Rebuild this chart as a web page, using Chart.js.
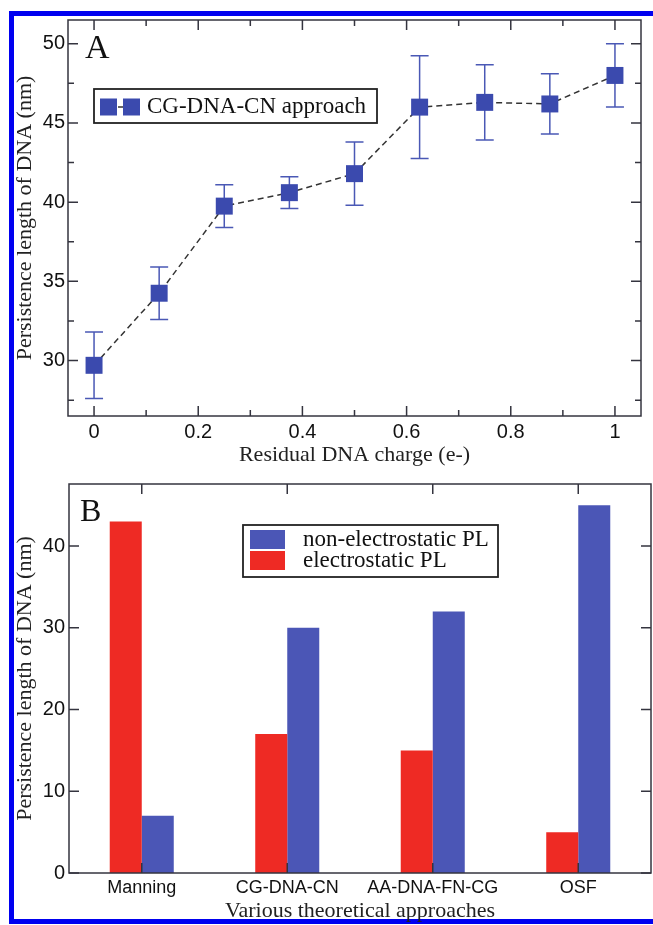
<!DOCTYPE html>
<html>
<head>
<meta charset="utf-8">
<script src="https://cdn.jsdelivr.net/npm/chart.js@4.4.1/dist/chart.umd.min.js"></script>
<style>
body{margin:0;background:#fff;width:653px;height:925px;overflow:hidden;position:relative}
#border{position:absolute;left:9px;top:11px;width:700px;height:913px;border:5px solid #0000f0;border-right:none;box-sizing:border-box}
canvas{position:absolute;left:0}
#chartA{top:0}
#chartB{top:468px}
</style>
</head>
<body>
<div id="border"></div>
<canvas id="chartA" width="653" height="468"></canvas>
<canvas id="chartB" width="653" height="457"></canvas>
<script>
// panel A : persistence length vs residual charge
var charge = [0, 0.125, 0.25, 0.375, 0.5, 0.625, 0.75, 0.875, 1];
var plA = [29.7, 34.25, 39.75, 40.6, 41.8, 46.0, 46.3, 46.2, 48.0];
var errA = [2.1, 1.65, 1.35, 1.0, 2.0, 3.25, 2.37, 1.9, 2.0];
var xTicksA = [0, 0.2, 0.4, 0.6, 0.8, 1];
var xMinorA = [0.1, 0.3, 0.5, 0.7, 0.9];
var yTicksA = [30, 35, 40, 45, 50];
var yMinorA = [27.5, 32.5, 37.5, 42.5, 47.5];

// panel B : theoretical approaches
var approaches = ['Manning', 'CG-DNA-CN', 'AA-DNA-FN-CG', 'OSF'];
var electroPL = [43, 17, 15, 5];
var nonElectroPL = [7, 30, 32, 45];
var yTicksB = [0, 10, 20, 30, 40];

var tickFont = {family: '"Liberation Sans", Arial, sans-serif', size: 20};
var titleFont = {family: '"Liberation Serif", "Times New Roman", serif', size: 22};
var serif = '"Liberation Serif", "Times New Roman", serif';
var frameCol = '#34343f';
var noGrid = {display: false, drawTicks: false};

// frame + inward ticks on the 4 sides (xmgrace look)
var frameTicks = {
	id: 'frameTicks',
	afterDraw: function(chart, args, o){
		var ctx = chart.ctx, a = chart.chartArea;
		var sx = chart.scales.x, sy = chart.scales.y;
		ctx.save();
		ctx.strokeStyle = frameCol;
		ctx.lineWidth = 1.5;
		ctx.beginPath();
		function xt(list, len){
			list.forEach(function(v){
				var p = sx.getPixelForValue(v);
				ctx.moveTo(p, a.bottom); ctx.lineTo(p, a.bottom - len);
				ctx.moveTo(p, a.top); ctx.lineTo(p, a.top + len);
			});
		}
		function yt(list, len){
			list.forEach(function(v){
				var p = sy.getPixelForValue(v);
				ctx.moveTo(a.left, p); ctx.lineTo(a.left + len, p);
				ctx.moveTo(a.right, p); ctx.lineTo(a.right - len, p);
			});
		}
		xt(o.xMajor, 10); xt(o.xMinor || [], 6);
		yt(o.yMajor, 10); yt(o.yMinor || [], 6);
		ctx.stroke();
		ctx.strokeRect(a.left, a.top, a.right - a.left, a.bottom - a.top);
		ctx.restore();
	}
};

// error bars from errA, drawn under the squares
var errorBars = {
	id: 'errorBars',
	beforeDatasetsDraw: function(chart){
		var ctx = chart.ctx, sx = chart.scales.x, sy = chart.scales.y;
		ctx.save();
		ctx.strokeStyle = '#4a58b5';
		ctx.lineWidth = 1.5;
		ctx.beginPath();
		charge.forEach(function(c, i){
			var px = sx.getPixelForValue(c);
			var t = sy.getPixelForValue(plA[i] + errA[i]);
			var b = sy.getPixelForValue(plA[i] - errA[i]);
			ctx.moveTo(px, t); ctx.lineTo(px, b);
			ctx.moveTo(px - 9, t); ctx.lineTo(px + 9, t);
			ctx.moveTo(px - 9, b); ctx.lineTo(px + 9, b);
		});
		ctx.stroke();
		ctx.restore();
	}
};

var legendA = {
	id: 'legendA',
	afterDraw: function(chart){
		var ctx = chart.ctx, a = chart.chartArea, ds = chart.data.datasets[0];
		ctx.save();
		ctx.fillStyle = '#111';
		ctx.font = '34px ' + serif;
		ctx.textBaseline = 'alphabetic';
		ctx.fillText('A', a.left + 17, a.top + 38);
		var bx = a.left + 26, by = a.top + 69;
		ctx.strokeStyle = '#222';
		ctx.lineWidth = 1.8;
		ctx.strokeRect(bx, by, 283, 34);
		var cy = by + 18;
		ctx.strokeStyle = ds.borderColor;
		ctx.lineWidth = 1.5;
		ctx.setLineDash(ds.borderDash);
		ctx.beginPath(); ctx.moveTo(bx + 14, cy); ctx.lineTo(bx + 38, cy); ctx.stroke();
		ctx.setLineDash([]);
		ctx.fillStyle = ds.pointBackgroundColor;
		ctx.fillRect(bx + 6, cy - 8.5, 17, 17);
		ctx.fillRect(bx + 29, cy - 8.5, 17, 17);
		ctx.fillStyle = '#111';
		ctx.font = '23px ' + serif;
		ctx.textBaseline = 'middle';
		ctx.fillText(ds.label, bx + 53, cy);
		ctx.restore();
	}
};

var legendB = {
	id: 'legendB',
	afterDraw: function(chart){
		var ctx = chart.ctx, a = chart.chartArea;
		ctx.save();
		ctx.fillStyle = '#111';
		ctx.font = '32px ' + serif;
		ctx.textBaseline = 'alphabetic';
		ctx.fillText('B', a.left + 11, a.top + 37);
		var bx = a.left + 174, by = a.top + 41;
		ctx.strokeStyle = '#222';
		ctx.lineWidth = 1.8;
		ctx.strokeRect(bx, by, 255, 52);
		ctx.font = '23px ' + serif;
		ctx.textBaseline = 'middle';
		var list = chart.data.datasets.slice().reverse();
		list.forEach(function(ds, i){
			var ry = by + 5 + i * 21;
			ctx.fillStyle = ds.backgroundColor;
			ctx.fillRect(bx + 7, ry, 35, 19);
			ctx.fillStyle = '#111';
			ctx.fillText(ds.label, bx + 60, ry + 10);
		});
		ctx.restore();
	}
};

new Chart(document.getElementById('chartA'), {
	type: 'line',
	data: {
		datasets: [{
			label: 'CG-DNA-CN approach',
			data: charge.map(function(c, i){ return {x: c, y: plA[i]}; }),
			borderColor: '#333',
			borderWidth: 1.5,
			borderDash: [6, 4],
			tension: 0,
			pointStyle: 'rect',
			pointRadius: 12,
			pointBorderWidth: 0,
			pointBackgroundColor: '#3b4aae'
		}]
	},
	options: {
		responsive: false, animation: false, devicePixelRatio: 1,
		layout: {padding: {top: 20, right: 3, left: 0, bottom: 0}},
		scales: {
			x: {
				type: 'linear', min: -0.05, max: 1.05,
				afterBuildTicks: function(s){ s.ticks = xTicksA.map(function(v){ return {value: v}; }); },
				afterFit: function(s){ s.height = 52; },
				grid: noGrid, border: {display: false},
				ticks: {font: tickFont, color: '#111', padding: 4, maxRotation: 0, autoSkip: false, callback: function(v){ return String(v); }},
				title: {display: true, text: 'Residual DNA charge (e-)', font: titleFont, color: '#222', padding: {top: 0, bottom: 0}}
			},
			y: {
				min: 26.5, max: 51.5,
				afterBuildTicks: function(s){ s.ticks = yTicksA.map(function(v){ return {value: v}; }); },
				afterFit: function(s){ s.width = 68; },
				grid: noGrid, border: {display: false},
				ticks: {font: tickFont, color: '#111', padding: 3, callback: function(v){ return String(v); }},
				title: {display: true, text: 'Persistence length of DNA (nm)', font: titleFont, color: '#222', padding: {top: 12, bottom: 0}}
			}
		},
		plugins: {
			legend: {display: false}, tooltip: {enabled: false},
			frameTicks: {xMajor: xTicksA, xMinor: xMinorA, yMajor: yTicksA, yMinor: yMinorA}
		}
	},
	plugins: [frameTicks, errorBars, legendA]
});

new Chart(document.getElementById('chartB'), {
	type: 'bar',
	data: {
		labels: approaches,
		datasets: [
			{label: 'electrostatic PL', data: electroPL, backgroundColor: '#ee2a24'},
			{label: 'non-electrostatic PL', data: nonElectroPL, backgroundColor: '#4b56b6'}
		]
	},
	options: {
		responsive: false, animation: false, devicePixelRatio: 1,
		layout: {padding: {top: 8, right: 2, left: 0, bottom: 0}},
		datasets: {bar: {categoryPercentage: 0.44, barPercentage: 1, borderWidth: 0}},
		scales: {
			x: {
				afterFit: function(s){ s.height = 52; },
				grid: noGrid, border: {display: false},
				ticks: {font: {family: tickFont.family, size: 18}, color: '#111', padding: 4, maxRotation: 0, autoSkip: false},
				title: {display: true, text: 'Various theoretical approaches', font: titleFont, color: '#222', padding: {top: 0, bottom: 1}}
			},
			y: {
				min: 0, max: 47.6,
				afterBuildTicks: function(s){ s.ticks = yTicksB.map(function(v){ return {value: v}; }); },
				afterFit: function(s){ s.width = 69; },
				grid: noGrid, border: {display: false},
				ticks: {font: tickFont, color: '#111', padding: 4, callback: function(v){ return String(v); }},
				title: {display: true, text: 'Persistence length of DNA (nm)', font: titleFont, color: '#222', padding: {top: 12, bottom: 0}}
			}
		},
		plugins: {
			legend: {display: false}, tooltip: {enabled: false},
			frameTicks: {xMajor: [0, 1, 2, 3], yMajor: yTicksB}
		}
	},
	plugins: [frameTicks, legendB]
});
</script>
</body>
</html>
